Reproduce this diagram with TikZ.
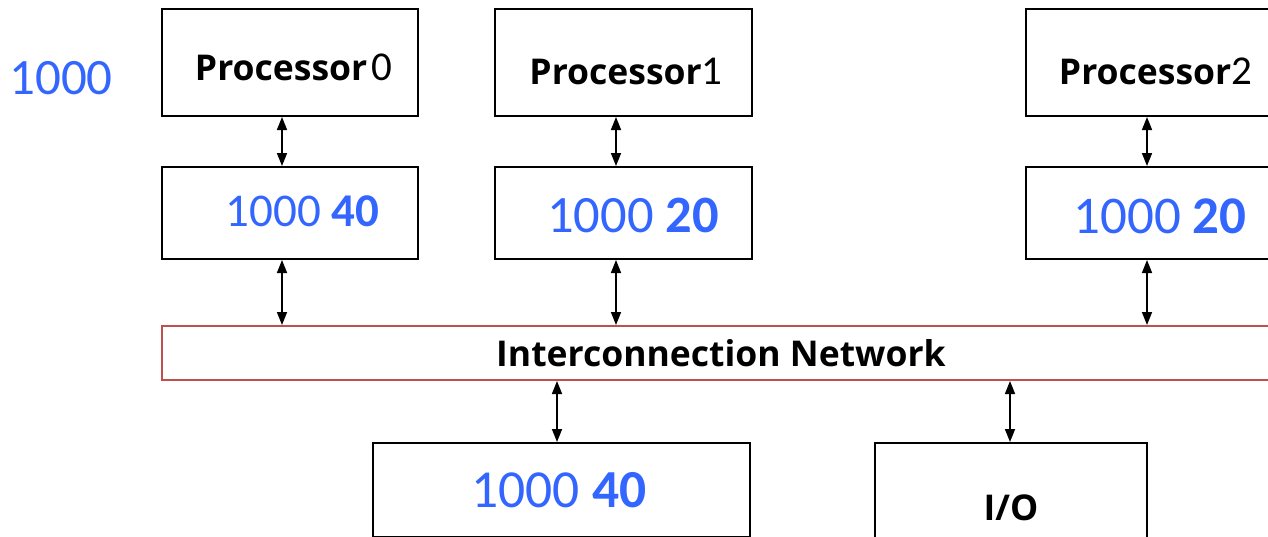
\documentclass[tikz,border=0pt]{standalone}
\usepackage{fontspec}
\setmainfont{Carlito}
\newfontfamily\headfont{Open Sans}
\usetikzlibrary{arrows.meta}
\definecolor{numblue}{RGB}{51,102,255}
\definecolor{netred}{RGB}{192,80,77}
\tikzset{
  unitbox/.style={draw=black, line width=2pt, inner sep=0pt, align=center},
  netbox/.style={draw=netred, line width=2pt, inner sep=0pt},
  link/.style={line width=1.6pt, {Triangle[length=13pt,width=10pt]}-{Triangle[length=13pt,width=10pt]}},
}
% place a line of text with its baseline #1 below the node centre
\newcommand{\onbase}[2]{\raisebox{-#1}[0pt][0pt]{#2}}
\newcommand{\procname}[1]{{\fontsize{35.5}{37}\selectfont\headfont\bfseries Processor}{\fontsize{41}{44}\selectfont #1}}
\newcommand{\cacheval}[3]{\textcolor{numblue}{\fontsize{#1}{#1}\selectfont #2 \textbf{#3}}}
\begin{document}
\begin{tikzpicture}[x=1pt,y=-1pt]
  \useasboundingbox (0,0) rectangle (1268,536);
  \clip (0,0) rectangle (1268,536);

  % column positions of the vertical links
  \coordinate (x0) at (282,0);
  \coordinate (x1) at (616,0);
  \coordinate (x2) at (1147,0);
  \coordinate (xm) at (557,0);
  \coordinate (xio) at (1010,0);

  % processors
  \node[unitbox, minimum width=256pt, minimum height=107pt] (p0) at (290,62.5)
    {\hspace*{7pt}\onbase{18pt}{\procname{\hspace{4pt}0}}};
  \node[unitbox, minimum width=257pt, minimum height=107pt] (p1) at (623.5,62.5)
    {\hspace*{5pt}\onbase{21.5pt}{\procname{1}}};
  \node[unitbox, minimum width=264pt, minimum height=107pt] (p2) at (1158,62.5)
    {\onbase{21.5pt}{\procname{2}}\hspace*{5pt}};

  % caches
  \node[unitbox, minimum width=256pt, minimum height=92pt] (c0) at (290,213)
    {\hspace*{25pt}\onbase{13pt}{\cacheval{47}{1000}{40}}};
  \node[unitbox, minimum width=257pt, minimum height=92pt] (c1) at (623.5,213)
    {\hspace*{19pt}\onbase{19pt}{\cacheval{52.5}{1000}{20}}};
  \node[unitbox, minimum width=264pt, minimum height=92pt] (c2) at (1158,213)
    {\hspace*{4pt}\onbase{20pt}{\cacheval{53}{1000}{20}}};

  % interconnection network
  \node[netbox, minimum width=1118pt, minimum height=54pt] (net) at (721,353)
    {\fontsize{35.5}{37}\selectfont\headfont\bfseries Interconnection Network};

  % memory and I/O
  \node[unitbox, minimum width=377pt, minimum height=94pt] (mem) at (561.5,490)
    {\onbase{17pt}{\cacheval{53.5}{1000}{40}}\hspace*{5pt}};
  \node[unitbox, minimum width=272pt, minimum height=130pt] (io) at (1011,508)
    {\onbase{12pt}{\fontsize{35.5}{37}\selectfont\headfont\bfseries I/O}};

  % memory value shown beside the processors
  \node[text=numblue, font=\fontsize{51}{52}\selectfont] (val) at (61,78) {1000};

  % links
  \draw[link] (p0.south -| x0) -- (c0.north -| x0);
  \draw[link] (p1.south -| x1) -- (c1.north -| x1);
  \draw[link] (p2.south -| x2) -- (c2.north -| x2);
  \draw[link] (c0.south -| x0) -- (net.north -| x0);
  \draw[link] (c1.south -| x1) -- (net.north -| x1);
  \draw[link] (c2.south -| x2) -- (net.north -| x2);
  \draw[link] (net.south -| xm) -- (mem.north -| xm);
  \draw[link] (net.south -| xio) -- (io.north -| xio);
\end{tikzpicture}
\end{document}
